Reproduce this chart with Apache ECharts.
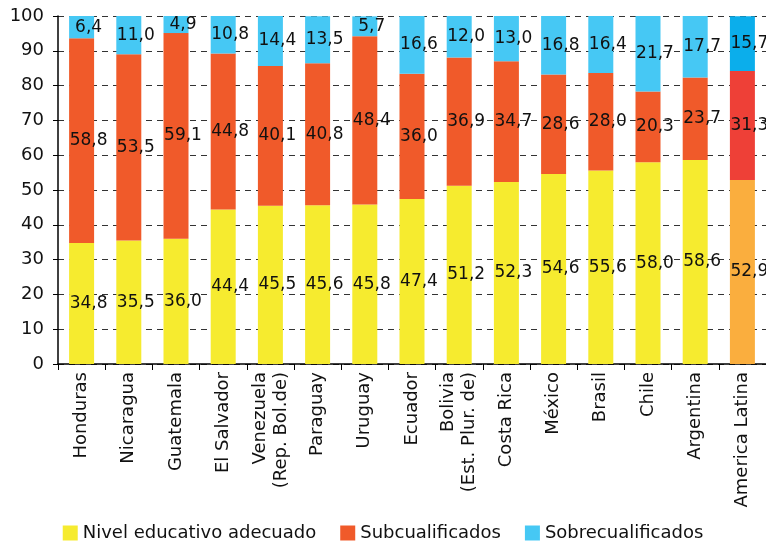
<!DOCTYPE html>
<html>
<head>
<meta charset="utf-8">
<script src="https://cdn.jsdelivr.net/npm/echarts@6/dist/echarts.min.js"></script>
<style>
  html, body { margin: 0; padding: 0; background: #fff; }
  #chart { width: 766px; height: 544px; }
</style>
</head>
<body>
<div id="chart"></div>
<script>
// Countries along the x axis
const categories = [
  'Honduras', 'Nicaragua', 'Guatemala', 'El Salvador', 'Venezuela\n(Rep. Bol.de)',
  'Paraguay', 'Uruguay', 'Ecuador', 'Bolivia\n(Est. Plur. de)', 'Costa Rica',
  'México', 'Brasil', 'Chile', 'Argentina', 'America Latina'
];

// Shares of workers (%) by match between education and occupation
const adecuado = [34.8, 35.5, 36.0, 44.4, 45.5, 45.6, 45.8, 47.4, 51.2, 52.3, 54.6, 55.6, 58.0, 58.6, 52.9];
const subcualificados = [58.8, 53.5, 59.1, 44.8, 40.1, 40.8, 48.4, 36.0, 36.9, 34.7, 28.6, 28.0, 20.3, 23.7, 31.3];
const sobrecualificados = [6.4, 11.0, 4.9, 10.8, 14.4, 13.5, 5.7, 16.6, 12.0, 13.0, 16.8, 16.4, 21.7, 17.7, 15.7];

const seriesNames = ['Nivel educativo adecuado', 'Subcualificados', 'Sobrecualificados'];
const yTicks = { min: 0, max: 100, interval: 10 };

// Country colours, and a stronger palette for the regional aggregate
const baseColors = ['#F6EB2F', '#F05A2A', '#46C8F4'];
const totalColors = ['#FAAE3E', '#EE4037', '#0BAEEB'];

const FONT = 'DejaVu Sans';
const lastIdx = categories.length - 1;

function buildData(values, k) {
  return values.map((v, i) => i === lastIdx
    ? { value: v, itemStyle: { color: totalColors[k] } }
    : v);
}

const fmt = p => p.value.toFixed(1).replace('.', ',');

const series = [adecuado, subcualificados, sobrecualificados].map((vals, k) => ({
  name: seriesNames[k],
  type: 'bar',
  stack: 'total',
  barWidth: 25,
  itemStyle: { color: baseColors[k] },
  data: buildData(vals, k),
  label: {
    show: true,
    position: 'inside',
    offset: [7, 0],
    formatter: fmt,
    color: '#111',
    fontFamily: FONT,
    fontSize: 17
  },
  emphasis: { disabled: true }
}));

const chart = echarts.init(document.getElementById('chart'), null, { renderer: 'canvas' });
chart.setOption({
  animation: false,
  textStyle: { fontFamily: FONT },
  grid: { left: 58, right: 0, top: 16, bottom: 180, containLabel: false },
  legend: {
    top: 519,
    left: 'center',
    itemWidth: 15,
    itemHeight: 15,
    itemGap: 24,
    icon: 'rect',
    textStyle: { fontFamily: FONT, fontSize: 18, color: '#111' },
    data: seriesNames
  },
  xAxis: {
    type: 'category',
    data: categories,
    axisLine: { lineStyle: { color: '#000', width: 1.5 } },
    axisTick: { show: true, length: 6, lineStyle: { color: '#000' } },
    axisLabel: {
      rotate: 90,
      interval: 0,
      margin: 8,
      color: '#111',
      fontFamily: FONT,
      fontSize: 18,
      lineHeight: 21
    }
  },
  yAxis: {
    type: 'value',
    min: yTicks.min,
    max: yTicks.max,
    interval: yTicks.interval,
    axisLine: { show: true, lineStyle: { color: '#000', width: 1.5 } },
    axisTick: { show: true, length: 5, lineStyle: { color: '#000' } },
    axisLabel: { color: '#111', fontFamily: FONT, fontSize: 18, margin: 14 },
    splitLine: { show: true, lineStyle: { color: '#333', type: [6, 5], width: 1 } }
  },
  series: series
});
</script>
</body>
</html>
